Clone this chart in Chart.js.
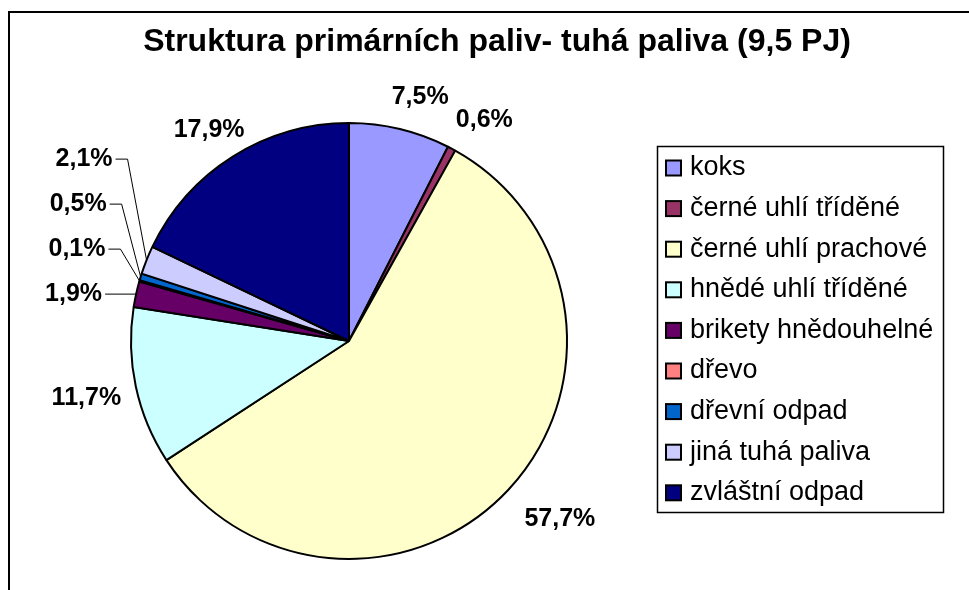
<!DOCTYPE html>
<html>
<head>
<meta charset="utf-8">
<script src="https://cdn.jsdelivr.net/npm/chart.js@4"></script>
<style>
  html, body { margin: 0; padding: 0; background: #fff; }
  #wrap { width: 969px; height: 590px; }
</style>
</head>
<body>
<div id="wrap"><canvas id="chart" width="969" height="590"></canvas></div>
<script>
const title = 'Struktura primárních paliv- tuhá paliva (9,5 PJ)';
const labels = [
  'koks',
  'černé uhlí tříděné',
  'černé uhlí prachové',
  'hnědé uhlí tříděné',
  'brikety hnědouhelné',
  'dřevo',
  'dřevní odpad',
  'jiná tuhá paliva',
  'zvláštní odpad'
];
const values = [7.5, 0.6, 57.7, 11.7, 1.9, 0.1, 0.5, 2.1, 17.9];
const colors = [
  '#9999FF', '#993366', '#FFFFCC', '#CCFFFF', '#660066',
  '#FF8080', '#0066CC', '#CCCCFF', '#000080'
];

const font = '"Liberation Sans", Arial, sans-serif';
const fmt = v => v.toFixed(1).replace('.', ',') + '%';

// white page, the top/left frame and the title
const framePlugin = {
  id: 'frame',
  beforeDraw(chart) {
    const ctx = chart.ctx;
    ctx.save();
    ctx.fillStyle = '#fff';
    ctx.fillRect(0, 0, chart.width, chart.height);
    ctx.strokeStyle = '#000';
    ctx.lineWidth = 2;
    ctx.beginPath();
    ctx.moveTo(9, chart.height);
    ctx.lineTo(9, 12);
    ctx.lineTo(chart.width, 12);
    ctx.stroke();
    ctx.fillStyle = '#000';
    ctx.font = 'bold 32px ' + font;
    ctx.textAlign = 'center';
    ctx.textBaseline = 'middle';
    ctx.fillText(title, 497, 42);
    ctx.restore();
  }
};

// percentage labels, small slices on the left get stacked with leader lines
const labelPlugin = {
  id: 'sliceLabels',
  afterDatasetsDraw(chart) {
    const ctx = chart.ctx;
    const meta = chart.getDatasetMeta(0);
    ctx.save();
    ctx.font = 'bold 25px ' + font;
    ctx.fillStyle = '#000';
    ctx.strokeStyle = '#000';
    ctx.textBaseline = 'middle';
    let stackY = null;
    meta.data.forEach((arc, i) => {
      const p = arc.getProps(['x', 'y', 'startAngle', 'endAngle', 'outerRadius'], true);
      const mid = (p.startAngle + p.endAngle) / 2;
      const dx = Math.cos(mid), dy = Math.sin(mid);
      const text = fmt(values[i]);
      const w = ctx.measureText(text).width, h = 25;
      const ex = p.x + dx * p.outerRadius, ey = p.y + dy * p.outerRadius;
      if (values[i] < 3 && dx < 0) {
        stackY = stackY === null ? ey : stackY - 45;
        const right = ex - 34;
        ctx.textAlign = 'right';
        ctx.fillText(text, right, stackY);
        ctx.lineWidth = 1;
        ctx.beginPath();
        ctx.moveTo(right + 3, stackY);
        ctx.lineTo(right + 15, stackY);
        ctx.lineTo(ex, ey);
        ctx.stroke();
      } else {
        const g = 24;
        const cx = p.x + dx * (p.outerRadius + g) + dx * w / 2 + 8;
        const cy = p.y + dy * (p.outerRadius + g) + dy * h / 2 + 4;
        ctx.textAlign = 'center';
        ctx.fillText(text, cx, cy);
      }
    });
    ctx.restore();
  }
};

// boxed legend like the spreadsheet one
const legendPlugin = {
  id: 'boxLegend',
  afterDraw(chart) {
    const ctx = chart.ctx;
    const items = chart.legend.legendItems || [];
    ctx.save();
    ctx.strokeStyle = '#000';
    ctx.lineWidth = 1.5;
    ctx.strokeRect(657.5, 146.5, 286, 366);
    ctx.font = '27px ' + font;
    ctx.textBaseline = 'middle';
    ctx.textAlign = 'left';
    items.forEach((it, i) => {
      const y = 168 + i * 40.6;
      ctx.fillStyle = it.fillStyle;
      ctx.fillRect(666, y - 7.5, 15, 15);
      ctx.lineWidth = 2;
      ctx.strokeRect(666, y - 7.5, 15, 15);
      ctx.fillStyle = '#000';
      ctx.fillText(it.text, 690, y);
    });
    ctx.restore();
  }
};

const data = {
  labels: labels,
  datasets: [{
    data: values,
    backgroundColor: colors,
    borderColor: '#000',
    borderWidth: 2
  }]
};

const config = {
  type: 'pie',
  data: data,
  options: {
    responsive: false,
    animation: false,
    radius: 218,
    layout: {
      padding: { left: 10, right: 281, top: 98, bottom: 6 }
    },
    plugins: {
      legend: { display: false },
      title: { display: false },
      tooltip: { enabled: false }
    }
  },
  plugins: [framePlugin, labelPlugin, legendPlugin]
};

const myChart = new Chart(document.getElementById('chart'), config);
</script>
</body>
</html>
